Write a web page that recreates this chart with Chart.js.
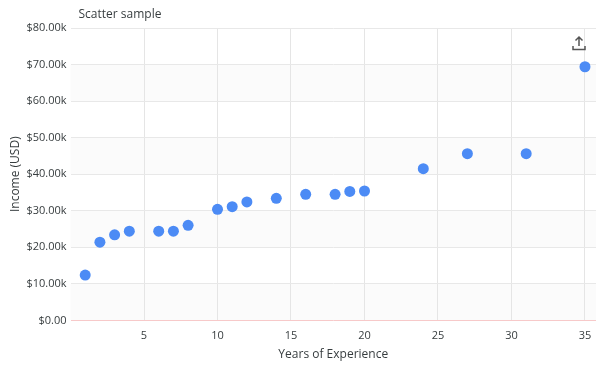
<!DOCTYPE html>
<html>
<head>
<meta charset="utf-8">
<script src="https://cdn.jsdelivr.net/npm/chart.js@4.4.1/dist/chart.umd.min.js"></script>
<style>
  html, body { margin: 0; padding: 0; background: #fff; }
  #wrap { width: 604px; height: 368px; position: relative; }
</style>
</head>
<body>
<div id="wrap"><canvas id="c" width="604" height="368"></canvas></div>
<script>
const chartTitle = 'Scatter sample';
const xTitle = 'Years of Experience';
const yTitle = 'Income (USD)';
const years = [1, 2, 3, 4, 6, 7, 8, 10, 11, 12, 14, 16, 18, 19, 20, 24, 27, 31, 35];
const income = [12400, 21400, 23400, 24400, 24400, 24400, 26000, 30400, 31100, 32400, 33400, 34500, 34500, 35300, 35400, 41500, 45600, 45600, 69400];
const xTicks = [5, 10, 15, 20, 25, 30, 35];
const yTicks = [0, 10000, 20000, 30000, 40000, 50000, 60000, 70000, 80000];

const FONT = '"Open Sans", "DejaVu Sans", sans-serif';
const TEXT = '#373d3f';

const points = years.map((x, i) => ({ x: x, y: income[i] }));

const bandsPlugin = {
  id: 'bands',
  beforeDraw(chart) {
    const { ctx, chartArea, scales } = chart;
    const y = scales.y;
    ctx.save();
    for (let i = 0; i < yTicks.length - 1; i++) {
      if (i % 2 === 0) {
        const top = y.getPixelForValue(yTicks[i + 1]);
        const bot = y.getPixelForValue(yTicks[i]);
        ctx.fillStyle = 'rgba(243,243,243,0.3)';
        ctx.fillRect(chartArea.left, top, chartArea.right - chartArea.left, bot - top);
      }
    }
    ctx.restore();
  }
};

const decorPlugin = {
  id: 'decor',
  afterDraw(chart) {
    const { ctx, chartArea } = chart;
    ctx.save();
    ctx.fillStyle = TEXT;
    ctx.font = '12px ' + FONT;
    ctx.textBaseline = 'middle';
    ctx.textAlign = 'left';
    ctx.fillText(chartTitle, chartArea.left + 8, 15);
    const cx = 579, cy = 44;
    ctx.strokeStyle = '#555';
    ctx.lineWidth = 1.5;
    ctx.beginPath();
    ctx.moveTo(cx, cy - 7); ctx.lineTo(cx, cy + 2);
    ctx.moveTo(cx - 3.5, cy - 3.5); ctx.lineTo(cx, cy - 7); ctx.lineTo(cx + 3.5, cy - 3.5);
    ctx.moveTo(cx - 6, cy + 2); ctx.lineTo(cx - 6, cy + 5.5); ctx.lineTo(cx + 6, cy + 5.5); ctx.lineTo(cx + 6, cy + 2);
    ctx.stroke();
    ctx.restore();
  }
};

new Chart(document.getElementById('c'), {
  type: 'scatter',
  data: {
    datasets: [{
      label: 'Income',
      data: points,
      backgroundColor: '#4C8BF5',
      borderColor: '#4C8BF5',
      borderWidth: 0,
      pointRadius: 5.5,
      pointHoverRadius: 6
    }]
  },
  options: {
    responsive: false,
    animation: false,
    devicePixelRatio: 1,
    layout: { padding: { top: 28, right: 8, left: 8, bottom: 6 } },
    plugins: {
      legend: { display: false },
      tooltip: { enabled: false },
      title: { display: false }
    },
    scales: {
      x: {
        type: 'linear',
        min: 0,
        max: 35.75,
        border: { display: false },
        afterBuildTicks(scale) { scale.ticks = xTicks.map(v => ({ value: v })); },
        grid: { color: '#e5e5e5', drawTicks: false },
        ticks: { color: TEXT, font: { family: FONT, size: 11 }, padding: 9, maxRotation: 0 },
        title: { display: true, text: xTitle, color: TEXT, font: { family: FONT, size: 12 }, padding: { top: -4, bottom: 0 } }
      },
      y: {
        type: 'linear',
        min: 0,
        max: 80000,
        border: { display: false },
        afterBuildTicks(scale) { scale.ticks = yTicks.map(v => ({ value: v })); },
        grid: {
          color: ctx => (ctx.tick && ctx.tick.value === 0) ? '#f7c9c9' : '#e8e8e8',
          drawTicks: false
        },
        ticks: {
          color: TEXT,
          font: { family: FONT, size: 11 },
          padding: 4,
          callback: v => v === 0 ? '$0.00' : '$' + (v / 1000).toFixed(2) + 'k'
        },
        title: { display: true, text: yTitle, color: TEXT, font: { family: FONT, size: 12 }, padding: { top: 0, bottom: 0 } }
      }
    }
  },
  plugins: [bandsPlugin, decorPlugin]
});
</script>
</body>
</html>
